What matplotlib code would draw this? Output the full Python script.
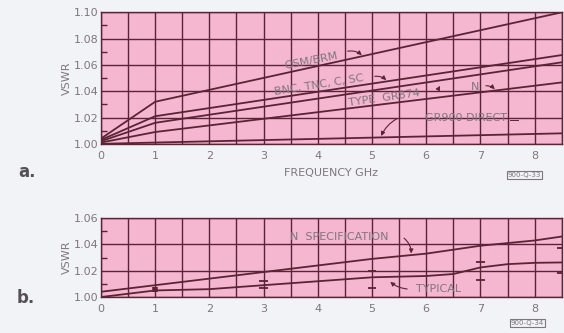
import numpy as np
import matplotlib.pyplot as plt

# panel a: VSWR vs frequency for several connector types
freq_a = [0, 0.5, 1, 8.5]
osm_brm = [1.004, 1.018, 1.032, 1.100]
bnc_tnc = [1.003, 1.012, 1.021, 1.0675]
gr874 = [1.002, 1.009, 1.016, 1.062]
n_type = [1.001, 1.005, 1.009, 1.0467]
gr900 = [1.000, 1.0005, 1.001, 1.008]

# panel b: N specification vs typical
freq_b = [0, 1, 2, 3, 4, 5, 6, 6.5, 7, 7.5, 8, 8.5]
n_spec = [1.004, 1.009, 1.014, 1.019, 1.024, 1.029, 1.033, 1.036, 1.039, 1.041, 1.043, 1.046]
typical = [1.000, 1.005, 1.006, 1.009, 1.012, 1.015, 1.016, 1.0175, 1.0225, 1.025, 1.026, 1.0263]
err_x = [3, 5, 7, 8.5]
err_hi = [1.012, 1.0195, 1.027, 1.037]
err_lo = [1.0065, 1.007, 1.013, 1.018]

pink = '#f5b6cf'
ink = '#5a2436'
txt = '#7f767f'

fig = plt.figure(figsize=(5.64, 3.33), dpi=100)
fig.patch.set_facecolor('#f2f3f6')

def setup(ax, ymax):
    ax.set_facecolor(pink)
    ax.set_xlim(0, 8.5)
    ax.set_ylim(1.0, ymax)
    ax.set_xticks(np.arange(0, 9, 1))
    ax.set_xticks(np.arange(0, 8.6, 0.5), minor=True)
    ax.set_yticks(np.arange(1.0, ymax + 0.001, 0.02))
    ax.set_yticks(np.arange(1.0, ymax + 0.001, 0.01), minor=True)
    ax.grid(which='major', axis='y', color=ink, lw=1.0)
    ax.grid(which='minor', axis='x', color=ink, lw=1.0)
    ax.grid(which='major', axis='x', color=ink, lw=1.0)
    ax.tick_params(which='both', direction='in', colors=ink, labelcolor=txt,
                   labelsize=8, length=0, pad=2)
    ax.tick_params(which='major', axis='x', pad=5)
    ax.tick_params(which='minor', axis='y', length=4, width=1)
    ax.yaxis.set_major_formatter(plt.FuncFormatter(lambda v, p: '%.2f' % v))
    for s in ax.spines.values():
        s.set_color(ink)
        s.set_linewidth(1.0)
    ax.set_ylabel('VSWR', color=txt, fontsize=8, labelpad=1)

ax1 = fig.add_axes([0.179, 0.568, 0.817, 0.395])
setup(ax1, 1.10)
for ys in [osm_brm, bnc_tnc, gr874, n_type, gr900]:
    ax1.plot(freq_a, ys, color=ink, lw=1.3)
ax1.set_xlabel('FREQUENCY GHz', color=txt, fontsize=8, labelpad=5)

arr = dict(arrowstyle='-|>', color=ink, lw=0.8, mutation_scale=6)
ax1.text(3.87, 1.063, 'OSM/BRM', color=txt, fontsize=8, rotation=11, ha='center', va='center')
ax1.annotate('', xy=(4.85, 1.066), xytext=(4.5, 1.070),
             arrowprops=dict(arr, connectionstyle='arc3,rad=-0.3'))
ax1.text(4.02, 1.045, 'BNC, TNC, C, SC', color=txt, fontsize=8, rotation=9, ha='center', va='center')
ax1.annotate('', xy=(5.3, 1.047), xytext=(5.0, 1.051),
             arrowprops=dict(arr, connectionstyle='arc3,rad=-0.3'))
ax1.text(5.23, 1.035, 'TYPE  GR874', color=txt, fontsize=8, rotation=8, ha='center', va='center')
ax1.plot([6.0, 6.9], [1.040, 1.040], color=ink, lw=0.7)
ax1.annotate('', xy=(6.28, 1.046), xytext=(6.2, 1.040), arrowprops=arr)
ax1.text(6.9, 1.043, 'N', color=txt, fontsize=8, ha='center', va='center')
ax1.annotate('', xy=(7.3, 1.040), xytext=(7.05, 1.044),
             arrowprops=dict(arr, connectionstyle='arc3,rad=-0.3'))
ax1.text(6.73, 1.020, 'GR900 DIRECT', color=txt, fontsize=8, ha='center', va='center')
ax1.plot([5.45, 5.9], [1.020, 1.020], color=ink, lw=0.7)
ax1.plot([7.55, 7.7], [1.018, 1.018], color=ink, lw=0.7)
ax1.annotate('', xy=(5.15, 1.004), xytext=(5.5, 1.020),
             arrowprops=dict(arr, connectionstyle='arc3,rad=0.2'))

ax2 = fig.add_axes([0.179, 0.108, 0.817, 0.237])
setup(ax2, 1.06)
ax2.plot(freq_b, n_spec, color=ink, lw=1.3)
ax2.plot(freq_b, typical, color=ink, lw=1.3)
ax2.hlines(err_hi + err_lo, [x - 0.08 for x in err_x * 2], [x + 0.08 for x in err_x * 2],
           color=ink, lw=1.3)
ax2.plot([1, 1], [1.004, 1.008], color=ink, lw=4, solid_capstyle='butt')
ax2.text(4.4, 1.0455, 'N  SPECIFICATION', color=txt, fontsize=8, ha='center', va='center')
ax2.annotate('', xy=(5.72, 1.031), xytext=(5.55, 1.046),
             arrowprops=dict(arr, connectionstyle='arc3,rad=-0.3'))
ax2.text(6.22, 1.0058, 'TYPICAL', color=txt, fontsize=8, ha='center', va='center')
ax2.annotate('', xy=(5.3, 1.013), xytext=(5.7, 1.006),
             arrowprops=dict(arr, connectionstyle='arc3,rad=-0.2'))

fig.text(0.032, 0.483, 'a.', fontsize=12, fontweight='bold', color='#555055', va='center')
fig.text(0.030, 0.105, 'b.', fontsize=12, fontweight='bold', color='#555055', va='center')
box = dict(boxstyle='square,pad=0.15', fc='none', ec=txt, lw=0.8)
fig.text(0.93, 0.475, '900-Q-33', fontsize=5, color=txt, ha='center', va='center', bbox=box)
fig.text(0.935, 0.03, '900-Q-34', fontsize=5, color=txt, ha='center', va='center', bbox=box)

fig.savefig('out.png', dpi=100, facecolor=fig.get_facecolor())
